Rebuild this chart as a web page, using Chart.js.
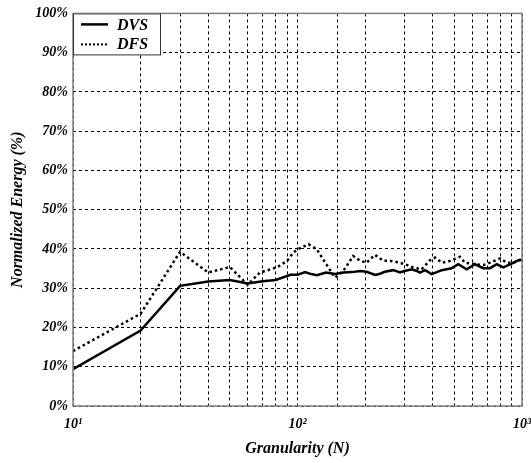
<!DOCTYPE html>
<html>
<head>
<meta charset="utf-8">
<script src="https://cdn.jsdelivr.net/npm/chart.js@4/dist/chart.umd.min.js"></script>
<style>
  html, body { margin: 0; padding: 0; background: #fff; }
  #wrap { width: 531px; height: 463px; }
</style>
</head>
<body>
<div id="wrap"><canvas id="energyChart" width="531" height="463"></canvas></div>
<script>
// values
const dvsN = [10, 20, 30, 40, 50, 60, 70, 80, 93, 100, 108, 115, 122, 134, 147, 160, 175, 190, 203, 222, 233, 245, 267, 286, 300, 323, 340, 351, 370, 396, 439, 486, 520, 567, 617, 672, 720, 772, 826, 884, 963, 1000];
const dvsValues = [9.4, 19.2, 30.6, 31.7, 32.1, 31.2, 31.8, 32.1, 33.4, 33.4, 34.1, 33.6, 33.3, 34.0, 33.6, 34.0, 34.1, 34.4, 34.2, 33.4, 33.7, 34.2, 34.6, 34.0, 34.4, 34.8, 34.4, 34.0, 34.6, 33.6, 34.6, 35.1, 36.1, 34.8, 36.1, 35.1, 35.1, 36.1, 35.3, 36.1, 37.1, 37.2];

const dfsN = [10, 20, 30, 40, 50, 60, 68, 81, 90, 96, 100, 112, 122, 133, 147, 160, 177, 190, 203, 221, 241, 258, 286, 301, 328, 357, 389, 410, 439, 470, 529, 557, 628, 672, 720, 798, 855, 915, 963, 1000];
const dfsValues = [14.0, 23.5, 39.3, 34.0, 35.4, 30.9, 34.0, 35.3, 37.0, 39.1, 39.9, 41.2, 39.9, 36.5, 32.7, 34.4, 38.2, 37.0, 36.5, 38.5, 37.0, 37.0, 36.5, 36.1, 35.3, 34.8, 37.1, 37.8, 36.5, 36.8, 38.0, 36.5, 36.1, 35.9, 36.5, 37.6, 36.5, 36.5, 37.0, 37.5];

const seriesLabels = ['DVS', 'DFS'];
const xTickLabels = { 10: '10\u00b9', 100: '10\u00b2', 1000: '10\u00b3' };
const yTicks = [0, 10, 20, 30, 40, 50, 60, 70, 80, 90, 100];

const serif = 'Liberation Serif, Times New Roman, serif';
const tickFont = { family: serif, size: 14, style: 'italic', weight: 'bold' };

const toPoints = (xs, ys) => xs.map((x, i) => ({ x: x, y: ys[i] }));

// gray frame round the plot and the boxed legend in the top left corner
const framePlugin = {
    id: 'frameAndLegend',
    afterDraw(chart) {
        const { ctx, chartArea: a } = chart;
        ctx.save();
        ctx.strokeStyle = '#808080';
        ctx.lineWidth = 1.5;
        ctx.strokeRect(a.left, a.top, a.right - a.left, a.bottom - a.top);

        const bx = a.left, by = a.top, bw = 87, bh = 41;
        ctx.fillStyle = '#fff';
        ctx.fillRect(bx, by, bw, bh);
        ctx.strokeStyle = '#333';
        ctx.lineWidth = 1;
        ctx.strokeRect(bx + 0.5, by + 0.5, bw, bh);

        ctx.strokeStyle = '#000';
        ctx.lineWidth = 2.5;
        ctx.beginPath();
        ctx.moveTo(bx + 8, by + 11);
        ctx.lineTo(bx + 35, by + 11);
        ctx.stroke();

        ctx.setLineDash([2, 2]);
        ctx.lineWidth = 2;
        ctx.beginPath();
        ctx.moveTo(bx + 8, by + 31);
        ctx.lineTo(bx + 35, by + 31);
        ctx.stroke();
        ctx.setLineDash([]);

        ctx.fillStyle = '#000';
        ctx.font = 'italic bold 16px ' + serif;
        ctx.textBaseline = 'middle';
        ctx.fillText(seriesLabels[0], bx + 44, by + 12);
        ctx.fillText(seriesLabels[1], bx + 44, by + 31);
        ctx.restore();
    }
};

const ctx = document.getElementById('energyChart').getContext('2d');
new Chart(ctx, {
    type: 'line',
    data: {
        datasets: [{
            label: seriesLabels[0],
            data: toPoints(dvsN, dvsValues),
            borderColor: '#000',
            borderWidth: 2.5,
            pointRadius: 0,
            tension: 0
        }, {
            label: seriesLabels[1],
            data: toPoints(dfsN, dfsValues),
            borderColor: '#000',
            borderWidth: 2.5,
            borderDash: [2.5, 3],
            pointRadius: 0,
            tension: 0
        }]
    },
    options: {
        responsive: false,
        animation: false,
        layout: { padding: { top: 11, right: 9, left: 0, bottom: 0 } },
        plugins: { legend: { display: false }, tooltip: { enabled: false } },
        scales: {
            x: {
                type: 'logarithmic',
                min: 10,
                max: 1000,
                grid: { color: '#000', lineWidth: 1, drawTicks: false },
                border: { display: false, dash: [3, 3] },
                ticks: {
                    autoSkip: false,
                    maxRotation: 0,
                    padding: 10,
                    color: '#000',
                    font: tickFont,
                    callback: v => xTickLabels[v] || ''
                },
                title: {
                    display: true,
                    text: 'Granularity (N)',
                    color: '#000',
                    font: { family: serif, size: 16, style: 'italic', weight: 'bold' },
                    padding: { top: 0, bottom: 5 }
                },
                afterFit: s => { s.height = 57; s.paddingLeft = 0; s.paddingRight = 0; }
            },
            y: {
                min: 0,
                max: 100,
                grid: { color: '#000', lineWidth: 1, drawTicks: false },
                border: { display: false, dash: [3, 3] },
                afterBuildTicks: s => { s.ticks = yTicks.map(v => ({ value: v })); },
                ticks: {
                    padding: 5,
                    color: '#000',
                    font: tickFont,
                    callback: v => v + '%'
                },
                title: {
                    display: true,
                    text: 'Normalized Energy (%)',
                    color: '#000',
                    font: { family: serif, size: 16, style: 'italic', weight: 'bold' },
                    padding: { top: 8, bottom: 0 }
                },
                afterFit: s => { s.width = 73; }
            }
        }
    },
    plugins: [framePlugin]
});
</script>
</body>
</html>
